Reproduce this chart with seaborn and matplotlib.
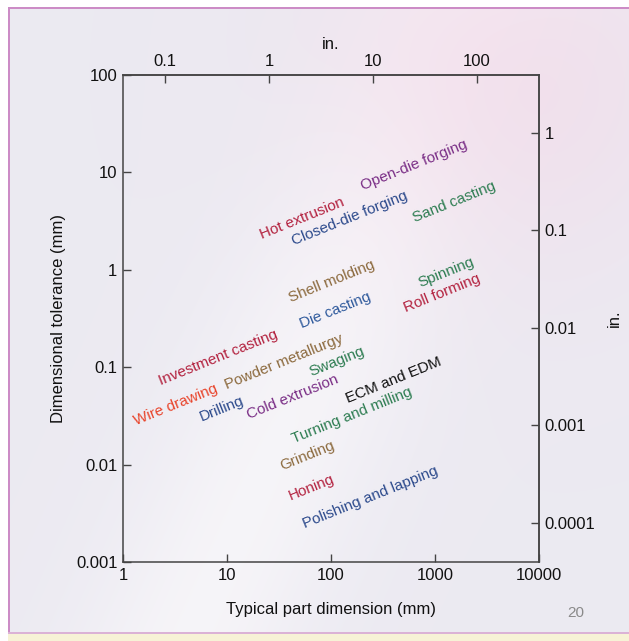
import matplotlib
matplotlib.use("Agg")
import matplotlib.pyplot as plt
import numpy as np
import seaborn as sns
from matplotlib.ticker import FixedLocator, FuncFormatter, NullLocator

# process labels, placed at typical size (mm) / tolerance (mm)
processes = ["Open-die forging", "Hot extrusion", "Closed-die forging", "Sand casting",
             "Shell molding", "Spinning", "Die casting", "Roll forming",
             "Investment casting", "Powder metallurgy", "Swaging",
             "Wire drawing", "Drilling", "Cold extrusion", "ECM and EDM",
             "Turning and milling", "Grinding", "Honing", "Polishing and lapping"]
size_mm = [628, 52.6, 152, 1523,
           102, 1276, 109, 1167,
           8.2, 35.3, 114,
           3.23, 8.95, 43.1, 403,
           159, 58.8, 65.6, 237]
tolerance_mm = [11.9, 3.40, 3.40, 4.97,
                0.767, 0.95, 0.386, 0.578,
                0.124, 0.113, 0.113,
                0.0409, 0.0372, 0.0494, 0.0739,
                0.0323, 0.01225, 0.00589, 0.00465]
colors = ["#7a2e86", "#b3223f", "#2c4a8c", "#2e7d52",
          "#8c6a3e", "#2e7d52", "#2f5a9c", "#b3223f",
          "#b3223f", "#8c6a3e", "#2e7d52",
          "#e8452c", "#2c4a8c", "#7a2e86", "#111111",
          "#2e7d52", "#8c6a3e", "#b3223f", "#2c4a8c"]

mm_ticks = [1, 10, 100, 1000, 10000]
tol_ticks = [0.001, 0.01, 0.1, 1, 10, 100]
in_x_ticks = [0.1, 1, 10, 100]
in_y_ticks = [0.0001, 0.001, 0.01, 0.1, 1]

sns.set_theme(style="ticks")
plt.rcParams["font.family"] = ["Liberation Sans", "DejaVu Sans"]

W, H = 629, 641
fig = plt.figure(figsize=(W / 100, H / 100), dpi=100)

# slide-like background
yy, xx = np.mgrid[0:H, 0:W]
u, v = xx / W, yy / H
img = np.ones((H, W, 3))
img[:] = np.array([0.925, 0.918, 0.948])
d = (u - (0.30 + 0.45 * (1 - v))) / 0.18
streak = np.exp(-d ** 2)[..., None]
img = img * (1 - 0.6 * streak) + 0.6 * streak * np.array([0.99, 0.985, 0.99])
pink = np.exp(-(((u - 0.8) / 0.3) ** 2 + ((v - 0.12) / 0.3) ** 2))[..., None]
img = img * (1 - 0.65 * pink) + 0.65 * pink * np.array([0.95, 0.85, 0.91])
img[:7, :] = 1.0
img[:, :8] = 1.0
img[7:9, 8:] = [0.80, 0.55, 0.78]
img[7:, 8:10] = [0.80, 0.55, 0.78]
img[632:634, 8:] = [0.86, 0.70, 0.84]
img[634:, 8:] = [0.97, 0.95, 0.84]
bg = fig.add_axes([0, 0, 1, 1], zorder=-10)
bg.imshow(img, extent=[0, 1, 0, 1], aspect="auto", interpolation="bilinear")
bg.axis("off")

ax = fig.add_axes([123 / W, 1 - 562 / H, 416 / W, 487 / H])
ax.set_facecolor("none")
ax.set_xscale("log")
ax.set_yscale("log")
ax.set_xlim(1, 10000)
ax.set_ylim(0.001, 100)

fmt = FuncFormatter(lambda val, pos: "{:g}".format(val))
ax.xaxis.set_major_locator(FixedLocator(mm_ticks))
ax.yaxis.set_major_locator(FixedLocator(tol_ticks))
ax.xaxis.set_minor_locator(NullLocator())
ax.yaxis.set_minor_locator(NullLocator())
ax.xaxis.set_major_formatter(fmt)
ax.yaxis.set_major_formatter(fmt)
ax.tick_params(direction="in", length=6, width=1, color="#444444",
               labelsize=12, labelcolor="#111111", pad=4)
for s in ax.spines.values():
    s.set_color("#444444")
    s.set_linewidth(1.1)

ax.set_xlabel("Typical part dimension (mm)", fontsize=12, color="#111111", labelpad=14)
ax.set_ylabel("Dimensional tolerance (mm)", fontsize=12, color="#111111", labelpad=7)

top = ax.secondary_xaxis("top", functions=(lambda x: x / 25.4, lambda x: x * 25.4))
top.xaxis.set_major_locator(FixedLocator(in_x_ticks))
top.xaxis.set_minor_locator(NullLocator())
top.xaxis.set_major_formatter(fmt)
top.tick_params(direction="in", length=6, width=1, color="#444444",
                labelsize=12, labelcolor="#111111", pad=4)
top.set_xlabel("in.", fontsize=12, color="#111111", labelpad=4)

right = ax.secondary_yaxis("right", functions=(lambda y: y / 25.4, lambda y: y * 25.4))
right.yaxis.set_major_locator(FixedLocator(in_y_ticks))
right.yaxis.set_minor_locator(NullLocator())
right.yaxis.set_major_formatter(fmt)
right.tick_params(direction="in", length=6, width=1, color="#444444",
                  labelsize=12, labelcolor="#111111", pad=4)
right.set_ylabel("in.", fontsize=12, color="#111111", labelpad=8)
for sec in (top, right):
    for s in sec.spines.values():
        s.set_color("#444444")
        s.set_linewidth(1.1)

for name, x, y, c in zip(processes, size_mm, tolerance_mm, colors):
    ax.text(x, y, name, color=c, fontsize=11, rotation=22,
            rotation_mode="anchor", ha="center", va="center")

fig.text(576 / W, 1 - 613 / H, "20", fontsize=11, color="#8a8a8a",
         ha="center", va="center")

fig.savefig("out.png", dpi=100)
